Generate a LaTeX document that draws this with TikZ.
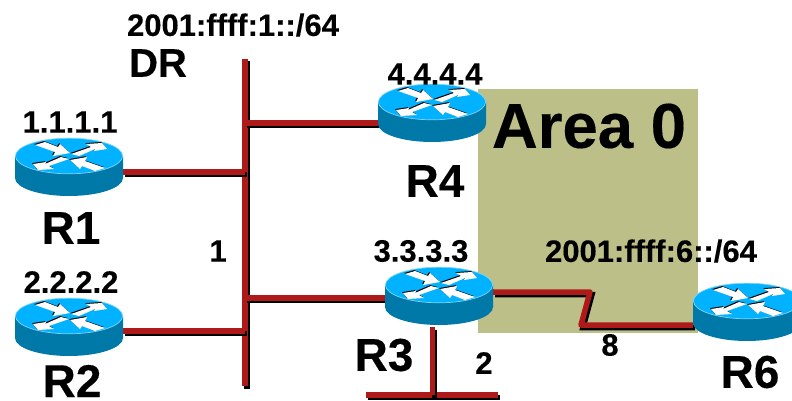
\documentclass[tikz,border=0pt]{standalone}
\usepackage{fontspec}
\setmainfont[BoldFeatures={FakeBold=0.25}]{Liberation Sans}
\usetikzlibrary{arrows.meta}
\definecolor{wirered}{HTML}{AE1A1A}
\definecolor{areaolive}{HTML}{BDBF88}
\definecolor{routertop}{HTML}{00B2FF}
\definecolor{routerside}{HTML}{0078A8}
\definecolor{routerrim}{HTML}{7FD4F5}
\tikzset{
  wire/.style={draw=wirered,line width=5.5pt,line join=round,
    preaction={draw=black,line width=5.5pt,transform canvas={xshift=2pt,yshift=-2.5pt}}},
  routerbox/.style={minimum width=108pt,minimum height=60pt,inner sep=0pt,outer sep=0pt},
  lbl/.style={font=\bfseries\fontsize{31}{33}\selectfont,inner sep=0pt,text=black},
  rlbl/.style={font=\bfseries\fontsize{46}{48}\selectfont,inner sep=0pt,text=black}
}
\newcommand{\arrowpair}[1]{%
  \fill[#1] (-34,-11) -- (-24,-14) -- (-11,-9) -- (-9,-12) -- (1,-3) -- (-16,0) -- (-14,-4) -- cycle;
  \fill[#1] (2,-2) -- (22,-9) -- (17,-12) -- (33,-13) -- (38,-7) -- (25,-5) -- (26,-7) -- (10,0) -- cycle;}
\newcommand{\routerat}[3]{%
  \begin{scope}[shift={(#2,#3)}]
    \fill[routerside] (-54,0) -- (-54,22) arc[start angle=180,end angle=360,x radius=54,y radius=-18] -- (54,0) -- cycle;
    \fill[routertop,draw=routerrim,line width=.7pt] (0,0) ellipse[x radius=53.6,y radius=17.8];
    \begin{scope}[shift={(-0.9,-0.9)}]\arrowpair{black}\end{scope}
    \begin{scope}[shift={(1.1,0.1)},rotate=180]\arrowpair{black}\end{scope}
    \arrowpair{white}
    \begin{scope}[shift={(2,1)},rotate=180]\arrowpair{white}\end{scope}
  \end{scope}}
\begin{document}
\begin{tikzpicture}[x=1pt,y=-1pt]
\useasboundingbox (0,0) rectangle (792,401);
\clip (0,0) rectangle (792,401);
\fill[areaolive] (478,89) rectangle (698,333);
\coordinate (busT) at (245,59);
\coordinate (busB) at (245,386);
\coordinate (j1) at (245,172);
\coordinate (j2) at (245,331);
\coordinate (j3) at (245,298);
\coordinate (j4) at (245,123);
\coordinate (za) at (590,292);
\coordinate (zb) at (581,325);
\coordinate (lanL) at (366,395);
\coordinate (lanR) at (498,395);
\coordinate (lanM) at (432.5,395);
\node[routerbox] (R1) at (69,168) {};
\node[routerbox] (R2) at (69,328) {};
\node[routerbox] (R4) at (432,114) {};
\node[routerbox] (R3) at (439,297) {};
\node[routerbox] (R6) at (747,313) {};
\path[wire] (busT) -- (busB);
\path[wire] (R1.east |- j1) -- (j1);
\path[wire] (R2.east |- j2) -- (j2);
\path[wire] (R3.west |- j3) -- (j3);
\path[wire] (R4.west |- j4) -- (j4);
\path[wire] (R3.east |- za) -- (za) -- (zb) -- (R6.west |- zb);
\path[wire] (lanL) -- (lanR);
\path[wire] (R3.south -| lanM) -- (lanM);
\routerat{R1}{69}{156}
\routerat{R2}{69}{316}
\routerat{R4}{432}{102}
\routerat{R3}{439}{285}
\routerat{R6}{747}{301}
\node[lbl] (t1) at (233,25) {2001:ffff:1::/64};
\node[font=\bfseries\fontsize{40}{42}\selectfont,inner sep=0pt] (dr) at (158,63) {DR};
\node[lbl] (ip1) at (70,122) {1.1.1.1};
\node[lbl] (ip2) at (71,282) {2.2.2.2};
\node[lbl] (ip3) at (421,251) {3.3.3.3};
\node[lbl] (ip4) at (435,74) {4.4.4.4};
\node[lbl] (t6) at (651,251) {2001:ffff:6::/64};
\node[rlbl] (n1) at (71,228) {R1};
\node[rlbl] (n2) at (72,381) {R2};
\node[rlbl] (n3) at (384,355) {R3};
\node[rlbl] (n4) at (435,181) {R4};
\node[rlbl] (n6) at (750,372) {R6};
\node[lbl] (c1) at (218,251) {1};
\node[lbl] (c2) at (484,363) {2};
\node[lbl] (c8) at (610,345) {8};
\node[font=\bfseries\fontsize{63.5}{66}\selectfont,inner sep=0pt] (area) at (589,126) {Area 0};
\end{tikzpicture}
\end{document}
